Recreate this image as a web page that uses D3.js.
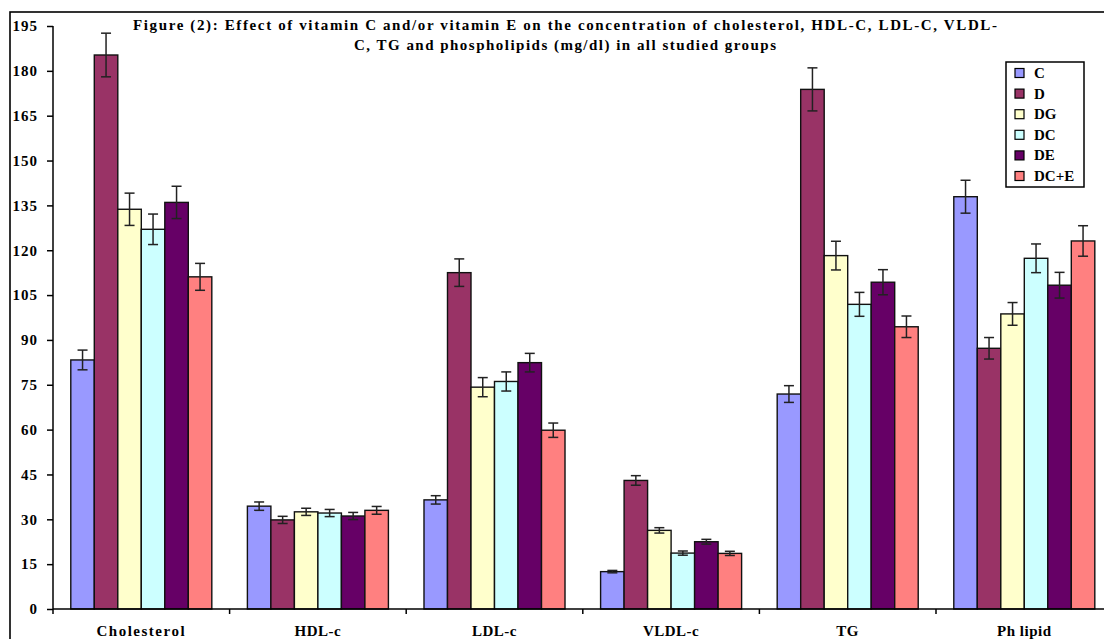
<!DOCTYPE html>
<html>
<head>
<meta charset="utf-8">
<script src="https://cdn.jsdelivr.net/npm/d3@7"></script>
<style>
  body { margin: 0; background: #fff; }
  svg text { font-family: "Liberation Serif", "Times New Roman", serif; font-weight: bold; fill: #000; }
</style>
</head>
<body>
<div class="canvas"></div>
<script>
// data
const categories = ['Cholesterol', 'HDL-c', 'LDL-c', 'VLDL-c', 'TG', 'Ph lipid'];
const groups = ['C', 'D', 'DG', 'DC', 'DE', 'DC+E'];
const groupColors = ['#9999FF', '#993366', '#FFFFCC', '#CCFFFF', '#660066', '#FF8080'];

// means per group, one value per category
const meanC   = [83.3, 34.4, 36.5, 12.5, 71.9, 137.9];
const meanD   = [185.3, 29.8, 112.5, 43.0, 173.8, 87.2];
const meanDG  = [133.7, 32.5, 74.2, 26.3, 118.2, 98.7];
const meanDC  = [127.0, 32.1, 76.1, 18.7, 101.9, 117.3];
const meanDE  = [136.0, 31.1, 82.4, 22.5, 109.3, 108.3];
const meanDCE = [111.1, 33.0, 59.8, 18.6, 94.4, 123.1];

// error (+/-) per group
const errC   = [3.3, 1.4, 1.4, 0.4, 2.8, 5.5];
const errD   = [7.3, 1.2, 4.6, 1.6, 7.2, 3.6];
const errDG  = [5.4, 1.2, 3.2, 0.9, 4.8, 3.8];
const errDC  = [5.1, 1.2, 3.2, 0.7, 4.0, 4.8];
const errDE  = [5.4, 1.2, 3.1, 0.8, 4.2, 4.3];
const errDCE = [4.5, 1.3, 2.4, 0.7, 3.6, 5.1];

const yTicks = d3.range(0, 196, 15);

const titleLines = [
  'Figure (2): Effect of vitamin C and/or vitamin E on the concentration of cholesterol, HDL-C, LDL-C, VLDL-',
  'C, TG and phospholipids (mg/dl) in all studied groups'
];

const means = [meanC, meanD, meanDG, meanDC, meanDE, meanDCE];
const errs = [errC, errD, errDG, errDC, errDE, errDCE];

// flat rows for the bars
const rows = [];
categories.forEach((cat, ci) => {
  groups.forEach((g, gi) => {
    rows.push({ cat, group: g, gi, value: means[gi][ci], err: errs[gi][ci] });
  });
});

const width = 1104, height = 639;

const svg = d3.select('.canvas')
  .append('svg')
  .attr('width', width)
  .attr('height', height);

// outer frame of the figure
svg.append('rect')
  .attr('x', 10).attr('y', 12)
  .attr('width', 1200).attr('height', 700)
  .attr('fill', 'none')
  .attr('stroke', '#000')
  .attr('stroke-width', 1.6);

// scales
const plotLeft = 53, bandStep = 176.6;
const x = d3.scaleBand()
  .domain(categories)
  .range([plotLeft, plotLeft + bandStep * categories.length])
  .paddingInner(0).paddingOuter(0);

const xInner = d3.scaleBand()
  .domain(groups)
  .range([0, x.bandwidth()])
  .paddingInner(0)
  .paddingOuter(0.757);

const y = d3.scaleLinear().domain([0, 195]).range([609, 26]);

const color = d3.scaleOrdinal().domain(groups).range(groupColors);

// bars
const graph = svg.append('g');

graph.selectAll('rect.bar')
  .data(rows)
  .enter()
  .append('rect')
  .attr('class', 'bar')
  .attr('x', d => x(d.cat) + xInner(d.group))
  .attr('y', d => y(d.value))
  .attr('width', xInner.bandwidth())
  .attr('height', d => y(0) - y(d.value))
  .attr('fill', d => color(d.group))
  .attr('stroke', '#111')
  .attr('stroke-width', 1.4);

// error bars
const errG = graph.selectAll('g.err')
  .data(rows)
  .enter()
  .append('g')
  .attr('class', 'err')
  .attr('transform', d => `translate(${x(d.cat) + xInner(d.group) + xInner.bandwidth() / 2},0)`)
  .attr('stroke', '#222')
  .attr('stroke-width', 1.5);

errG.append('line')
  .attr('x1', 0).attr('x2', 0)
  .attr('y1', d => y(d.value + d.err))
  .attr('y2', d => y(d.value - d.err));

errG.append('line')
  .attr('x1', -5).attr('x2', 5)
  .attr('y1', d => y(d.value + d.err))
  .attr('y2', d => y(d.value + d.err));

errG.append('line')
  .attr('x1', -5).attr('x2', 5)
  .attr('y1', d => y(d.value - d.err))
  .attr('y2', d => y(d.value - d.err));

// axes
const yAxis = d3.axisLeft(y).tickValues(yTicks).tickSize(6).tickPadding(9).tickFormat(d3.format('d'));
const yAxisGroup = svg.append('g')
  .attr('transform', `translate(${plotLeft},0)`)
  .call(yAxis);
yAxisGroup.select('.domain').attr('stroke', '#000').attr('stroke-width', 1.5).attr('d', `M0,${y(195)}V${y(0)}`);
yAxisGroup.selectAll('.tick line').attr('stroke', '#000').attr('stroke-width', 1.5);
yAxisGroup.selectAll('.tick text')
  .attr('font-size', 15)
  .attr('letter-spacing', 1)
  .attr('font-family', '"Liberation Serif", serif')
  .attr('font-weight', 'bold')
  .attr('fill', '#000');

const xAxisGroup = svg.append('g').attr('transform', `translate(0,${y(0)})`);
xAxisGroup.append('line')
  .attr('x1', plotLeft).attr('x2', width)
  .attr('stroke', '#000').attr('stroke-width', 1.5);
xAxisGroup.selectAll('line.tick')
  .data(categories.map((c, i) => x.range()[0] + x.step() * i))
  .enter()
  .append('line')
  .attr('class', 'tick')
  .attr('x1', d => d).attr('x2', d => d)
  .attr('y1', 0).attr('y2', 5)
  .attr('stroke', '#000').attr('stroke-width', 1.5);

xAxisGroup.selectAll('text')
  .data(categories)
  .enter()
  .append('text')
  .attr('x', d => x(d) + x.bandwidth() / 2)
  .attr('y', 27)
  .attr('text-anchor', 'middle')
  .attr('font-size', 15)
  .attr('letter-spacing', d => d === 'Cholesterol' ? 1.5 : 0.5)
  .text(d => d);

// title
const titleWidths = [864, 422];
svg.selectAll('text.title')
  .data(titleLines)
  .enter()
  .append('text')
  .attr('class', 'title')
  .attr('x', (d, i) => 565 - titleWidths[i] / 2)
  .attr('y', (d, i) => 30 + i * 20)
  .attr('font-size', 15)
  .attr('textLength', (d, i) => titleWidths[i])
  .attr('lengthAdjust', 'spacing')
  .text(d => d);

// legend
const legend = svg.append('g').attr('transform', 'translate(1006,62)');
legend.append('rect')
  .attr('width', 78).attr('height', 125)
  .attr('fill', '#fff')
  .attr('stroke', '#000').attr('stroke-width', 1.5);

const items = legend.selectAll('g.item')
  .data(groups)
  .enter()
  .append('g')
  .attr('class', 'item')
  .attr('transform', (d, i) => `translate(0,${11 + i * 20.6})`);

items.append('rect')
  .attr('x', 9).attr('y', -4.5)
  .attr('width', 9).attr('height', 9)
  .attr('fill', d => color(d))
  .attr('stroke', '#000').attr('stroke-width', 1.2);

items.append('text')
  .attr('x', 28)
  .attr('y', 5)
  .attr('font-size', 15)
  .text(d => d);
</script>
</body>
</html>
